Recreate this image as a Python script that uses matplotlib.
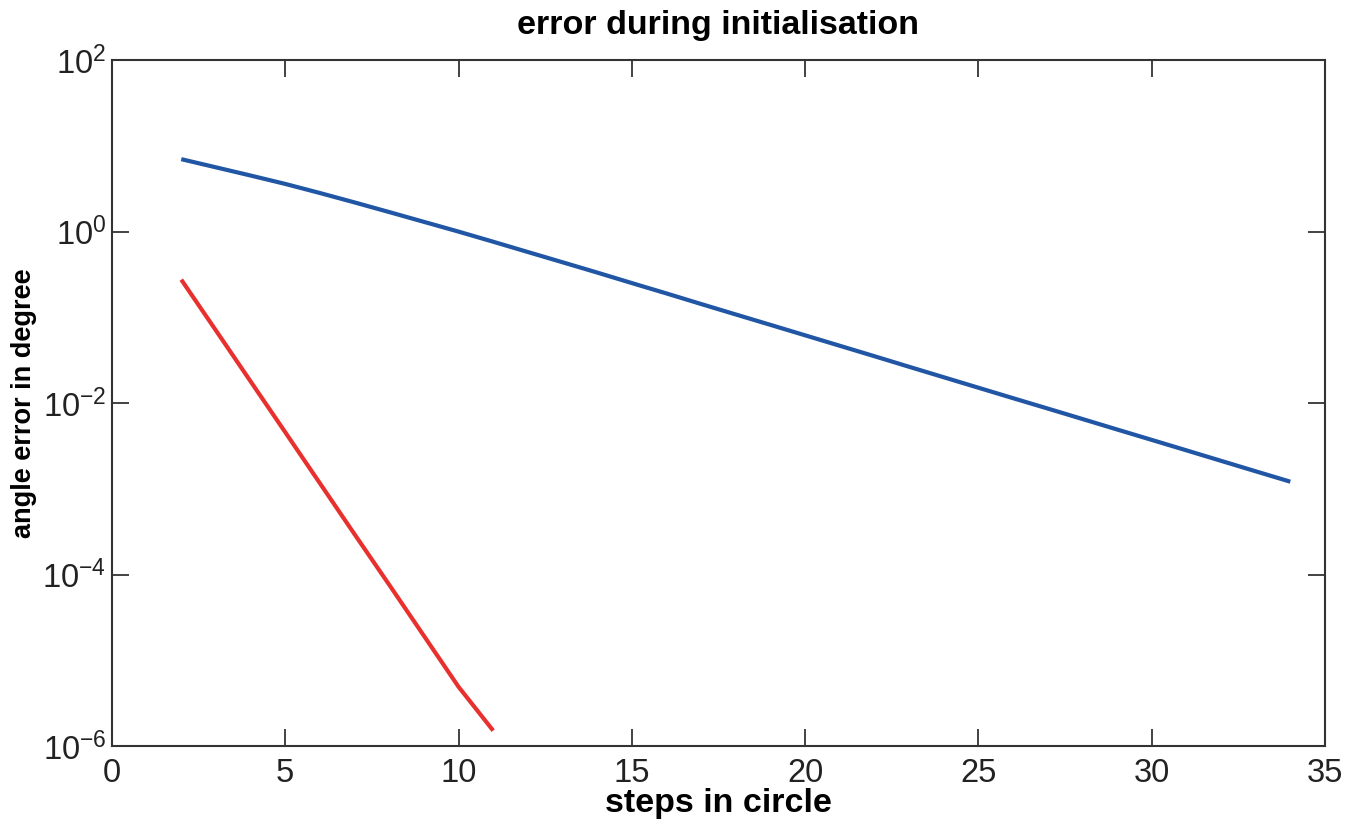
import math
import matplotlib
matplotlib.use("Agg")
import matplotlib.pyplot as plt
from matplotlib.ticker import FixedLocator, FuncFormatter

plt.rcParams["font.family"] = ["Liberation Sans", "DejaVu Sans"]
plt.rcParams["mathtext.fontset"] = "custom"
plt.rcParams["mathtext.rm"] = "Liberation Sans"
plt.rcParams["mathtext.it"] = "Liberation Sans:italic"
plt.rcParams["mathtext.bf"] = "Liberation Sans:bold"

# data
steps_blue = list(range(2, 35))
err_blue = [7.00, 5.62, 4.51, 3.60, 2.82, 2.19, 1.69, 1.30, 1.00, 0.762,
            0.578, 0.439, 0.333, 0.251, 0.190, 0.143, 0.108, 0.0817, 0.0617,
            0.0466, 0.0352, 0.0265, 0.0200, 0.0151, 0.0114, 0.00863, 0.00652,
            0.00492, 0.00372, 0.00281, 0.00212, 0.00160, 0.00121]

steps_red = list(range(2, 12))
err_red = [0.275, 0.0703, 0.0179, 0.00457, 0.00116, 2.95e-4, 7.59e-5,
           1.93e-5, 4.90e-6, 1.51e-6]

ytick_vals = [1e-6, 1e-4, 1e-2, 1e0, 1e2]
xtick_vals = [0, 5, 10, 15, 20, 25, 30, 35]

fig = plt.figure(figsize=(13.52, 8.24), dpi=100)
ax = fig.add_axes([0.0828, 0.0947, 0.8972, 0.8323])

ax.plot(steps_blue, err_blue, color="#2156a5", linewidth=3.0, solid_capstyle="butt")
ax.plot(steps_red, err_red, color="#e8312f", linewidth=3.0, solid_capstyle="butt")

ax.set_yscale("log")
ax.set_xlim(0, 35)
ax.set_ylim(1e-6, 1e2)
ax.set_xticks(xtick_vals)
ax.yaxis.set_major_locator(FixedLocator(ytick_vals))
ax.yaxis.set_minor_locator(FixedLocator([]))


def fmt(v, pos):
    e = int(round(math.log10(v)))
    return r"$\mathregular{10^{%d}}$" % e


ax.yaxis.set_major_formatter(FuncFormatter(fmt))

ax.tick_params(axis="both", which="major", direction="in", length=12, width=1.2,
               top=True, right=True, labelsize=23.5, colors="#222222")
ax.tick_params(axis="x", pad=9)
ax.tick_params(axis="y", pad=4)
for s in ax.spines.values():
    s.set_color("#333333")
    s.set_linewidth(1.5)

ax.set_title("error during initialisation", fontsize=24.5, fontweight="bold", pad=19)
ax.set_xlabel("steps in circle", fontsize=24.5, fontweight="bold", labelpad=-1)
ax.set_ylabel("angle error in degree", fontsize=19.5, fontweight="bold", labelpad=4)

fig.savefig("out.png", dpi=100)
